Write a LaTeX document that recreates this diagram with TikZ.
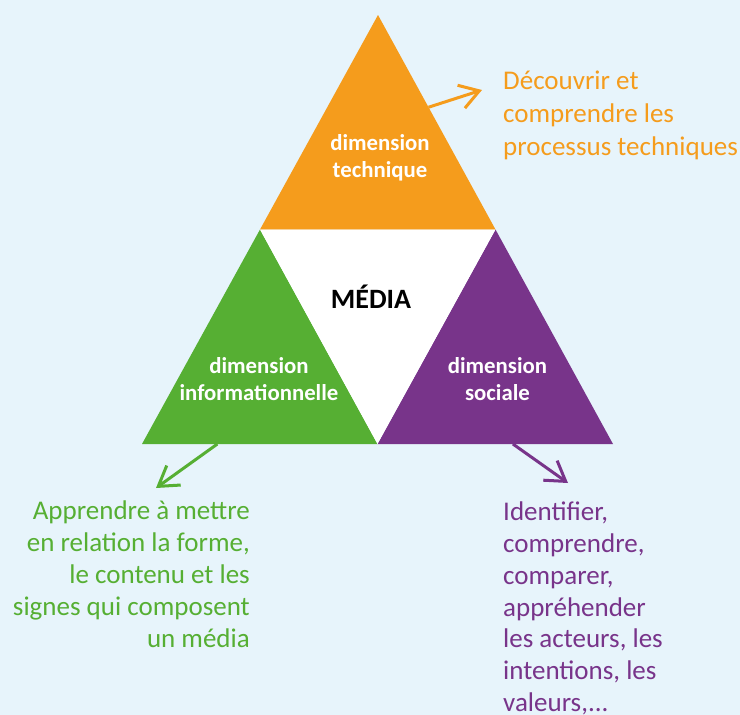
\documentclass[tikz,border=0pt]{standalone}
\usepackage{fontspec}
\setmainfont{Carlito}
\usetikzlibrary{arrows.meta, positioning, calc}
\definecolor{mediaOrange}{HTML}{F59C1C}
\definecolor{mediaGreen}{HTML}{56AF33}
\definecolor{mediaPurple}{HTML}{78348A}
\definecolor{mediaSky}{HTML}{E7F4FB}

\begin{document}
\begin{tikzpicture}[
    x=1pt, y=-1pt,
    dimlabel/.style={text=white, font=\fontsize{22.8}{26.5}\selectfont\bfseries,
                 align=center, inner sep=0pt},
    goal/.style={font=\fontsize{27}{31.8}\selectfont, inner sep=0pt},
    pointer/.style={line width=3pt, -{Straight Barb[length=19pt, width=24pt]}},
  ]
    \fill[mediaSky] (0,0) rectangle (740,715);

    % corners of the big triangle
    \coordinate (top) at (378,15);
    \coordinate (left) at (142,444);
    \coordinate (right) at (613,444);
    \coordinate (ml) at ($(top)!0.5!(left)$);
    \coordinate (mr) at ($(top)!0.5!(right)$);
    \coordinate (mb) at ($(left)!0.5!(right)$);

    \fill[mediaOrange] (top) -- (ml) -- (mr) -- cycle;
    \fill[mediaGreen] (ml) -- (left) -- (mb) -- cycle;
    \fill[mediaPurple] (mr) -- (mb) -- (right) -- cycle;
    \fill[white] (ml) -- (mr) -- (mb) -- cycle;

    % labels (base = last line)
    \node[dimlabel, anchor=base] (tech) at (380,177) {dimension\\technique};
    \node[font=\fontsize{28}{32}\selectfont\bfseries, inner sep=0pt, anchor=base] (media) at (371,308) {MÉDIA};
    \node[dimlabel, anchor=base] (info) at (259,400) {dimension\\informationnelle};
    \node[dimlabel, anchor=base] (soc) at (497.5,400) {dimension\\sociale};

    \node[goal, font=\fontsize{27}{33}\selectfont, text=mediaOrange, align=left, anchor=base west] (techgoal) at (503,155)
      {Découvrir et\\comprendre les\\processus techniques};
    \node[goal, text=mediaGreen, align=right, anchor=base east] (infogoal) at (250,647)
      {Apprendre à mettre\\en relation la forme,\\le contenu et les\\signes qui composent\\un média};
    \node[goal, text=mediaPurple, align=left, anchor=base west] (socgoal) at (503,711.5)
      {Identifier,\\comprendre,\\comparer,\\appréhender\\les acteurs, les\\intentions, les\\valeurs,...};

    % arrows out of the triangles
    \coordinate (techout) at ($(top)!0.43!(mr)$);
    \coordinate (techtip) at (482,90);
    \coordinate (infoout) at ($(left)!0.32!(mb)$);
    \coordinate (infotip) at (156,488);
    \coordinate (socout) at ($(mb)!0.575!(right)$);
    \coordinate (soctip) at (568,483);
    \draw[pointer, mediaOrange] (techout) -- (techtip);
    \draw[pointer, mediaGreen] (infoout) -- (infotip);
    \draw[pointer, mediaPurple] (socout) -- (soctip);
  \end{tikzpicture}
\end{document}
